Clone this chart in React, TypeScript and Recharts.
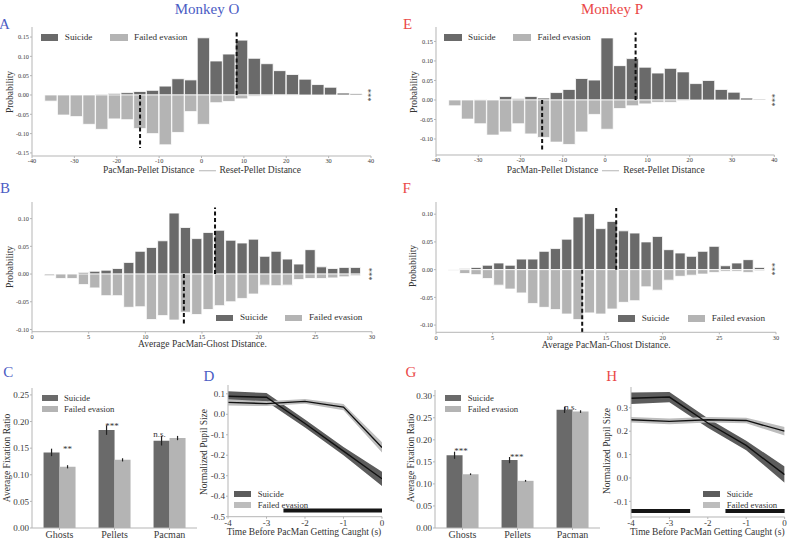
import React from 'react';
import { BarChart, Bar, XAxis, YAxis, ReferenceLine, ComposedChart, Area, Line, ErrorBar } from 'recharts';

const FONT = '"Liberation Serif", "DejaVu Serif", serif';
const DARK = '#6a6a6a';
const LIGHT = '#b4b4b4';
const DARK_BAND = '#5c5c5c';
const LIGHT_BAND = '#bdbdbd';
const BLUE = '#4b5cc4';
const RED = '#ea4848';
const AXIS = '#b5b5b5';
const TICK = '#3a3a3a';
const TXT = '#333';

// ---------- Pellet-distance histograms (A, E) ----------
const pelletBins = [-35.5, -32.5, -29.5, -26.5, -23.5, -20.5, -17.5, -14.5, -11.5, -8.5, -5.5, -2.5, 0.5, 3.5, 6.5, 9.5, 12.5, 15.5, 18.5, 21.5, 24.5, 27.5, 30.5, 33.5, 36.5];
const pelletSuicideO = [0, 0, 0, 0, 0.002, 0.004, 0.006, 0.009, 0.012, 0.023, 0.042, 0.039, 0.148, 0.088, 0.106, 0.142, 0.095, 0.081, 0.063, 0.053, 0.041, 0.027, 0.02, 0.005, 0.003];
const pelletFailedO = [-0.016, -0.052, -0.056, -0.076, -0.089, -0.062, -0.064, -0.087, -0.1, -0.129, -0.097, -0.043, -0.076, -0.02, -0.017, -0.01, -0.003, -0.002, -0.001, -0.001, 0, 0, 0, 0, 0];
const pelletSuicideP = [0, 0, 0.001, 0, 0.009, 0.003, 0.009, 0.005, 0.019, 0.027, 0.055, 0.051, 0.159, 0.088, 0.106, 0.084, 0.069, 0.081, 0.072, 0.042, 0.05, 0.027, 0.02, 0.005, 0.002];
const pelletFailedP = [-0.015, -0.049, -0.061, -0.09, -0.082, -0.061, -0.087, -0.096, -0.108, -0.114, -0.082, -0.037, -0.075, -0.022, -0.015, -0.01, -0.006, -0.006, -0.002, 0, 0, 0, 0, 0, 0];
const pelletTicks = [-40, -30, -20, -10, 0, 10, 20, 30, 40];
// mean markers [x, extent]
const pelletMeanSuicideO: [number, number] = [8.3, 0.162];
const pelletMeanFailedO: [number, number] = [-14.5, -0.137];
const pelletMeanSuicideP: [number, number] = [7.2, 0.173];
const pelletMeanFailedP: [number, number] = [-14.9, -0.128];

// ---------- Ghost-distance histograms (B, F) ----------
const ghostBins = [1.5, 2.5, 3.5, 4.5, 5.5, 6.5, 7.5, 8.5, 9.5, 10.5, 11.5, 12.5, 13.5, 14.5, 15.5, 16.5, 17.5, 18.5, 19.5, 20.5, 21.5, 22.5, 23.5, 24.5, 25.5, 26.5, 27.5, 28.5];
const ghostSuicideO = [0, 0, 0, 0.003, 0.005, 0.007, 0.01, 0.021, 0.041, 0.048, 0.06, 0.11, 0.084, 0.064, 0.075, 0.079, 0.061, 0.056, 0.063, 0.032, 0.041, 0.027, 0.018, 0.044, 0.013, 0.01, 0.012, 0.012];
const ghostFailedO = [-0.003, -0.008, -0.008, -0.019, -0.025, -0.039, -0.039, -0.06, -0.059, -0.082, -0.075, -0.083, -0.069, -0.073, -0.064, -0.057, -0.05, -0.044, -0.036, -0.02, -0.021, -0.02, -0.01, -0.008, -0.008, -0.007, -0.005, -0.003];
const ghostSuicideP = [0, 0.002, 0.004, 0.008, 0.012, 0.008, 0.019, 0.019, 0.033, 0.038, 0.055, 0.095, 0.101, 0.074, 0.087, 0.07, 0.066, 0.05, 0.06, 0.036, 0.03, 0.024, 0.033, 0.042, 0.007, 0.012, 0.018, 0.004];
const ghostFailedP = [-0.001, -0.007, -0.009, -0.016, -0.028, -0.035, -0.042, -0.061, -0.068, -0.072, -0.08, -0.09, -0.078, -0.08, -0.071, -0.059, -0.056, -0.031, -0.037, -0.019, -0.012, -0.01, -0.008, -0.005, -0.003, -0.003, -0.005, -0.002];
const ghostTicks = [0, 5, 10, 15, 20, 25, 30];
const ghostMeanSuicideO: [number, number] = [16.15, 0.12];
const ghostMeanFailedO: [number, number] = [13.4, -0.093];
const ghostMeanSuicideP: [number, number] = [15.9, 0.111];
const ghostMeanFailedP: [number, number] = [12.9, -0.113];

// ---------- Fixation ratios (C, G) ----------
const fixCats = ['Ghosts', 'Pellets', 'Pacman'];
const fixSuicideO = [0.142, 0.184, 0.164];
const fixSuicideErrO = [0.007, 0.009, 0.009];
const fixFailedO = [0.115, 0.128, 0.169];
const fixFailedErrO = [0.003, 0.003, 0.004];
const fixSigO = ['**', '***', 'n.s.'];
const fixSuicideP = [0.165, 0.154, 0.268];
const fixSuicideErrP = [0.008, 0.007, 0.007];
const fixFailedP = [0.122, 0.107, 0.264];
const fixFailedErrP = [0.002, 0.002, 0.003];
const fixSigP = ['***', '***', 'n.s.'];

// ---------- Pupil size (D, H) ----------
const pupilTime = [-4, -3, -2, -1, 0];
const pupilSuicideO = [0.088, 0.083, -0.045, -0.18, -0.315];
const pupilSuicideErrO = [0.025, 0.021, 0.02, 0.02, 0.035];
const pupilFailedO = [0.058, 0.052, 0.063, 0.035, -0.162];
const pupilFailedErrO = [0.015, 0.012, 0.012, 0.015, 0.025];
const pupilSuicideP = [0.341, 0.346, 0.235, 0.139, 0.014];
const pupilSuicideErrP = [0.025, 0.022, 0.02, 0.02, 0.035];
const pupilFailedP = [0.249, 0.242, 0.249, 0.246, 0.2];
const pupilFailedErrP = [0.012, 0.012, 0.012, 0.012, 0.018];
const pupilSigO: [number, number][] = [[-2.56, 0]];
const pupilSigP: [number, number][] = [[-4, -2.46], [-1.54, 0]];

const MT = 4;
const MR = 6;

function chartBox(plot: number[], yw: number, xh: number) {
  const [x0, y0, x1, y1] = plot;
  return {
    style: { position: 'absolute' as const, left: x0 - yw, top: y0 - MT },
    width: x1 - x0 + yw + MR,
    height: y1 - y0 + MT + xh,
    margin: { top: MT, right: MR, left: 0, bottom: 0 },
  };
}

type TxtProps = { x: number; y: number; children: React.ReactNode; size?: number; color?: string; anchor?: 'start' | 'middle' | 'end'; rotate?: number };
function Txt({ x, y, children, size = 9.5, color = TXT, anchor = 'middle', rotate = 0 }: TxtProps) {
  const tx = anchor === 'middle' ? '-50%' : anchor === 'start' ? '0%' : '-100%';
  return (
    <div style={{ position: 'absolute', left: x, top: y, transform: `translate(${tx}, -50%) rotate(${rotate}deg)`, fontSize: size, color, fontFamily: FONT, whiteSpace: 'nowrap', lineHeight: 1 }}>
      {children}
    </div>
  );
}

type LegItem = { x: number; y: number; color: string; label: string };
function Legend2({ items, w, h, gap, size }: { items: LegItem[]; w: number; h: number; gap: number; size: number }) {
  return (
    <>
      {items.map((it, i) => (
        <React.Fragment key={i}>
          <div style={{ position: 'absolute', left: it.x, top: it.y, width: w, height: h, background: it.color }} />
          <Txt x={it.x + w + gap} y={it.y + h / 2} anchor="start" size={size}>{it.label}</Txt>
        </React.Fragment>
      ))}
    </>
  );
}

type HistProps = {
  plot: number[];
  bins: number[];
  suicide: number[];
  failed: number[];
  xDomain: [number, number];
  xTicks: number[];
  yDomain: [number, number];
  yTicks: number[];
  meanS: [number, number];
  meanF: [number, number];
  binWidth: number;
  fill: number;
};

function Histogram(p: HistProps) {
  const box = chartBox(p.plot, 30, 14);
  const data = p.bins.map((x, i) => ({ x, s: p.suicide[i], f: p.failed[i] }));
  const plotW = p.plot[2] - p.plot[0];
  const barSize = (plotW * p.binWidth) / (p.xDomain[1] - p.xDomain[0]) * p.fill;
  const tickStyle = { fontSize: 6.3, fill: TICK, fontFamily: FONT };
  return (
    <div style={box.style}>
      <BarChart width={box.width} height={box.height} margin={box.margin} data={data} stackOffset="sign" barSize={barSize}>
        <XAxis dataKey="x" type="number" domain={p.xDomain} ticks={p.xTicks} allowDataOverflow height={14} tick={tickStyle} tickSize={2} tickMargin={1} axisLine={{ stroke: AXIS }} tickLine={{ stroke: AXIS }} interval={0} />
        <YAxis type="number" domain={p.yDomain} ticks={p.yTicks} allowDataOverflow width={30} tick={tickStyle} tickSize={2} tickMargin={1} axisLine={{ stroke: AXIS }} tickLine={{ stroke: AXIS }} tickFormatter={(v: number) => v.toFixed(2)} interval={0} />
        <Bar dataKey="s" stackId="h" fill={DARK} stroke="#fff" strokeWidth={0.8} isAnimationActive={false} />
        <Bar dataKey="f" stackId="h" fill={LIGHT} stroke="#fff" strokeWidth={0.8} isAnimationActive={false} />
        <ReferenceLine segment={[{ x: p.meanS[0], y: 0 }, { x: p.meanS[0], y: p.meanS[1] }]} stroke="#111" strokeWidth={2} strokeDasharray="4 2.5" />
        <ReferenceLine segment={[{ x: p.meanF[0], y: 0 }, { x: p.meanF[0], y: p.meanF[1] }]} stroke="#111" strokeWidth={2} strokeDasharray="4 2.5" />
      </BarChart>
    </div>
  );
}

type FixProps = { plot: number[]; s: number[]; se: number[]; f: number[]; fe: number[]; yDomain: [number, number]; yTicks: number[] };
function FixChart(p: FixProps) {
  const box = chartBox(p.plot, 28, 14);
  const data = fixCats.map((c, i) => ({ c, s: p.s[i], se: p.se[i], f: p.f[i], fe: p.fe[i] }));
  return (
    <div style={box.style}>
      <BarChart width={box.width} height={box.height} margin={box.margin} data={data} barCategoryGap="21%" barGap={0}>
        <XAxis dataKey="c" height={14} tick={{ fontSize: 10, fill: TICK, fontFamily: FONT }} tickSize={2} tickMargin={1} axisLine={{ stroke: AXIS }} tickLine={{ stroke: AXIS }} interval={0} />
        <YAxis type="number" domain={p.yDomain} ticks={p.yTicks} allowDataOverflow width={28} tick={{ fontSize: 9, fill: TICK, fontFamily: FONT }} tickSize={2} tickMargin={1} axisLine={{ stroke: AXIS }} tickLine={{ stroke: AXIS }} tickFormatter={(v: number) => v.toFixed(2)} interval={0} />
        <Bar dataKey="s" fill={DARK} isAnimationActive={false}>
          <ErrorBar dataKey="se" width={0} stroke="#222" strokeWidth={1.2} direction="y" />
        </Bar>
        <Bar dataKey="f" fill={LIGHT} isAnimationActive={false}>
          <ErrorBar dataKey="fe" width={0} stroke="#222" strokeWidth={1.2} direction="y" />
        </Bar>
      </BarChart>
    </div>
  );
}

type PupilProps = { plot: number[]; sM: number[]; sE: number[]; fM: number[]; fE: number[]; yDomain: [number, number]; yTicks: number[]; sig: [number, number][]; sigY: number };
function Pupil(p: PupilProps) {
  const box = chartBox(p.plot, 28, 14);
  const data = pupilTime.map((t, i) => ({
    t,
    sBand: [p.sM[i] - p.sE[i], p.sM[i] + p.sE[i]],
    s: p.sM[i],
    fBand: [p.fM[i] - p.fE[i], p.fM[i] + p.fE[i]],
    f: p.fM[i],
  }));
  const tickStyle = { fontSize: 9, fill: TICK, fontFamily: FONT };
  return (
    <div style={box.style}>
      <ComposedChart width={box.width} height={box.height} margin={box.margin} data={data}>
        <XAxis dataKey="t" type="number" domain={[-4, 0]} ticks={pupilTime} allowDataOverflow height={14} tick={tickStyle} tickSize={2} tickMargin={1} axisLine={{ stroke: AXIS }} tickLine={{ stroke: AXIS }} interval={0} />
        <YAxis type="number" domain={p.yDomain} ticks={p.yTicks} allowDataOverflow width={28} tick={tickStyle} tickSize={2} tickMargin={1} axisLine={{ stroke: AXIS }} tickLine={{ stroke: AXIS }} tickFormatter={(v: number) => v.toFixed(1)} interval={0} />
        <Area dataKey="sBand" type="linear" fill={DARK_BAND} fillOpacity={1} stroke="none" isAnimationActive={false} />
        <Area dataKey="fBand" type="linear" fill={LIGHT_BAND} fillOpacity={1} stroke="none" isAnimationActive={false} />
        <Line dataKey="s" type="linear" stroke="#111" strokeWidth={1.4} dot={false} isAnimationActive={false} />
        <Line dataKey="f" type="linear" stroke="#111" strokeWidth={1.4} dot={false} isAnimationActive={false} />
        {p.sig.map(([a, b], i) => (
          <ReferenceLine key={i} segment={[{ x: a, y: p.sigY }, { x: b, y: p.sigY }]} stroke="#151515" strokeWidth={4} />
        ))}
      </ComposedChart>
    </div>
  );
}

function XLabelPellet({ x, y }: { x: number; y: number }) {
  return (
    <div style={{ position: 'absolute', left: x, top: y, transform: 'translate(-50%, -50%)', fontSize: 9.5, color: TXT, fontFamily: FONT, whiteSpace: 'nowrap', lineHeight: 1, display: 'flex', alignItems: 'center' }}>
      <span>PacMan-Pellet Distance</span>
      <span style={{ display: 'inline-block', width: 17, borderTop: `1px solid ${AXIS}`, margin: '0 4px' }} />
      <span>Reset-Pellet Distance</span>
    </div>
  );
}

export default function App() {
  const histTicks1 = [-0.15, -0.1, -0.05, 0, 0.05, 0.1, 0.15];
  const histTicks2 = [-0.1, -0.05, 0, 0.05, 0.1, 0.15];
  const ghostYTicks = [-0.1, -0.05, 0, 0.05, 0.1];
  return (
    <div style={{ position: 'absolute', left: 0, top: 0, width: 789, height: 539, background: '#fff', overflow: 'hidden', fontFamily: FONT }}>
      {/* Titles */}
      <Txt x={207} y={8.5} size={15} color={BLUE}>Monkey O</Txt>
      <Txt x={612} y={8.5} size={15} color={RED}>Monkey P</Txt>

      {/* Panel letters */}
      <Txt x={4.5} y={23.5} size={15} color={BLUE}>A</Txt>
      <Txt x={5} y={188} size={15} color={BLUE}>B</Txt>
      <Txt x={8.3} y={372} size={15} color={BLUE}>C</Txt>
      <Txt x={209} y={375.5} size={15} color={BLUE}>D</Txt>
      <Txt x={407.5} y={24} size={15} color={RED}>E</Txt>
      <Txt x={406.7} y={188} size={15} color={RED}>F</Txt>
      <Txt x={411} y={372} size={15} color={RED}>G</Txt>
      <Txt x={611.7} y={375.5} size={15} color={RED}>H</Txt>

      {/* A */}
      <Histogram plot={[32, 27, 371, 156]} bins={pelletBins} suicide={pelletSuicideO} failed={pelletFailedO} xDomain={[-40, 40]} xTicks={pelletTicks} yDomain={[-0.158, 0.176]} yTicks={histTicks1} meanS={pelletMeanSuicideO} meanF={pelletMeanFailedO} binWidth={3} fill={0.97} />
      <Legend2 items={[{ x: 40.7, y: 34.3, color: DARK, label: 'Suicide' }, { x: 110, y: 34.3, color: LIGHT, label: 'Failed evasion' }]} w={17.6} h={6.4} gap={6.5} size={9.2} />
      <Txt x={11} y={91.5} rotate={-90}>Probability</Txt>
      <XLabelPellet x={202} y={171.2} />
      <Txt x={368.3} y={95} size={8.5} rotate={90}>***</Txt>

      {/* E */}
      <Histogram plot={[435.7, 27, 774, 155]} bins={pelletBins} suicide={pelletSuicideP} failed={pelletFailedP} xDomain={[-40, 40]} xTicks={pelletTicks} yDomain={[-0.141, 0.187]} yTicks={histTicks2} meanS={pelletMeanSuicideP} meanF={pelletMeanFailedP} binWidth={3} fill={0.97} />
      <Legend2 items={[{ x: 444, y: 34.3, color: DARK, label: 'Suicide' }, { x: 513.3, y: 34.3, color: LIGHT, label: 'Failed evasion' }]} w={17.6} h={6.4} gap={6.5} size={9.2} />
      <Txt x={414.5} y={92} rotate={-90}>Probability</Txt>
      <XLabelPellet x={605.7} y={171.2} />
      <Txt x={771.7} y={100} size={8.5} rotate={90}>***</Txt>

      {/* B */}
      <Histogram plot={[32, 202, 372, 331.7]} bins={ghostBins} suicide={ghostSuicideO} failed={ghostFailedO} xDomain={[0, 30]} xTicks={ghostTicks} yDomain={[-0.104, 0.13]} yTicks={ghostYTicks} meanS={ghostMeanSuicideO} meanF={ghostMeanFailedO} binWidth={1} fill={0.9} />
      <Legend2 items={[{ x: 216, y: 315, color: DARK, label: 'Suicide' }, { x: 285, y: 315, color: LIGHT, label: 'Failed evasion' }]} w={17.3} h={6.4} gap={6.7} size={9.2} />
      <Txt x={11} y={266.7} rotate={-90}>Probability</Txt>
      <Txt x={202.5} y={345.3}>Average PacMan-Ghost Distance.</Txt>
      <Txt x={369} y={273.7} size={8.5} rotate={90}>***</Txt>

      {/* F */}
      <Histogram plot={[435.7, 201.7, 775.7, 332]} bins={ghostBins} suicide={ghostSuicideP} failed={ghostFailedP} xDomain={[0, 30]} xTicks={ghostTicks} yDomain={[-0.113, 0.122]} yTicks={ghostYTicks} meanS={ghostMeanSuicideP} meanF={ghostMeanFailedP} binWidth={1} fill={0.9} />
      <Legend2 items={[{ x: 617.7, y: 315.3, color: DARK, label: 'Suicide' }, { x: 687.7, y: 315.3, color: LIGHT, label: 'Failed evasion' }]} w={17.3} h={6.4} gap={6.7} size={9.2} />
      <Txt x={414.3} y={265.7} rotate={-90}>Probability</Txt>
      <Txt x={606.2} y={345.6}>Average PacMan-Ghost Distance.</Txt>
      <Txt x={772} y={268.5} size={8.5} rotate={90}>***</Txt>

      {/* C */}
      <FixChart plot={[31.5, 388, 196.5, 528]} s={fixSuicideO} se={fixSuicideErrO} f={fixFailedO} fe={fixFailedErrO} yDomain={[0, 0.263]} yTicks={[0, 0.05, 0.1, 0.15, 0.2, 0.25]} />
      <Legend2 items={[{ x: 42, y: 395, color: DARK, label: 'Suicide' }, { x: 42, y: 406, color: LIGHT, label: 'Failed evasion' }]} w={16} h={6} gap={6} size={8.7} />
      <Txt x={8} y={457.5} rotate={-90}>Average Fixation Ratio</Txt>
      <Txt x={67.5} y={448.5} size={9}>{fixSigO[0]}</Txt>
      <Txt x={112} y={426} size={9}>{fixSigO[1]}</Txt>
      <Txt x={159.5} y={434} size={9}>{fixSigO[2]}</Txt>

      {/* G */}
      <FixChart plot={[435, 390, 600, 528]} s={fixSuicideP} se={fixSuicideErrP} f={fixFailedP} fe={fixFailedErrP} yDomain={[0, 0.313]} yTicks={[0, 0.05, 0.1, 0.15, 0.2, 0.25, 0.3]} />
      <Legend2 items={[{ x: 445, y: 395, color: DARK, label: 'Suicide' }, { x: 445, y: 406, color: LIGHT, label: 'Failed evasion' }]} w={16} h={6} gap={6.7} size={8.7} />
      <Txt x={411.7} y={458} rotate={-90}>Average Fixation Ratio</Txt>
      <Txt x={461} y={450.5} size={9}>{fixSigP[0]}</Txt>
      <Txt x={516.7} y={457} size={9}>{fixSigP[1]}</Txt>
      <Txt x={570.5} y={407} size={9}>{fixSigP[2]}</Txt>

      {/* D */}
      <Pupil plot={[227.7, 385, 381.7, 516.7]} sM={pupilSuicideO} sE={pupilSuicideErrO} fM={pupilFailedO} fE={pupilFailedErrO} yDomain={[-0.5, 0.143]} yTicks={[-0.5, -0.4, -0.3, -0.2, -0.1, 0, 0.1]} sig={pupilSigO} sigY={-0.47} />
      <Legend2 items={[{ x: 234, y: 491, color: DARK_BAND, label: 'Suicide' }, { x: 234, y: 502, color: LIGHT_BAND, label: 'Failed evasion' }]} w={17} h={6} gap={6.7} size={8.7} />
      <Txt x={205} y={451.7} rotate={-90}>Normalized Pupil Size</Txt>
      <Txt x={304} y={533.3}>Time Before PacMan Getting Caught (s)</Txt>

      {/* H */}
      <Pupil plot={[630.7, 386.7, 784.3, 516.7]} sM={pupilSuicideP} sE={pupilSuicideErrP} fM={pupilFailedP} fE={pupilFailedErrP} yDomain={[-0.167, 0.389]} yTicks={[-0.1, 0, 0.1, 0.2, 0.3]} sig={pupilSigP} sigY={-0.141} />
      <Legend2 items={[{ x: 703, y: 491, color: DARK_BAND, label: 'Suicide' }, { x: 703, y: 502, color: LIGHT_BAND, label: 'Failed evasion' }]} w={17} h={6} gap={6.7} size={8.7} />
      <Txt x={608} y={451} rotate={-90}>Normalized Pupil Size</Txt>
      <Txt x={707.3} y={533}>Time Before PacMan Getting Caught (s)</Txt>
    </div>
  );
}
